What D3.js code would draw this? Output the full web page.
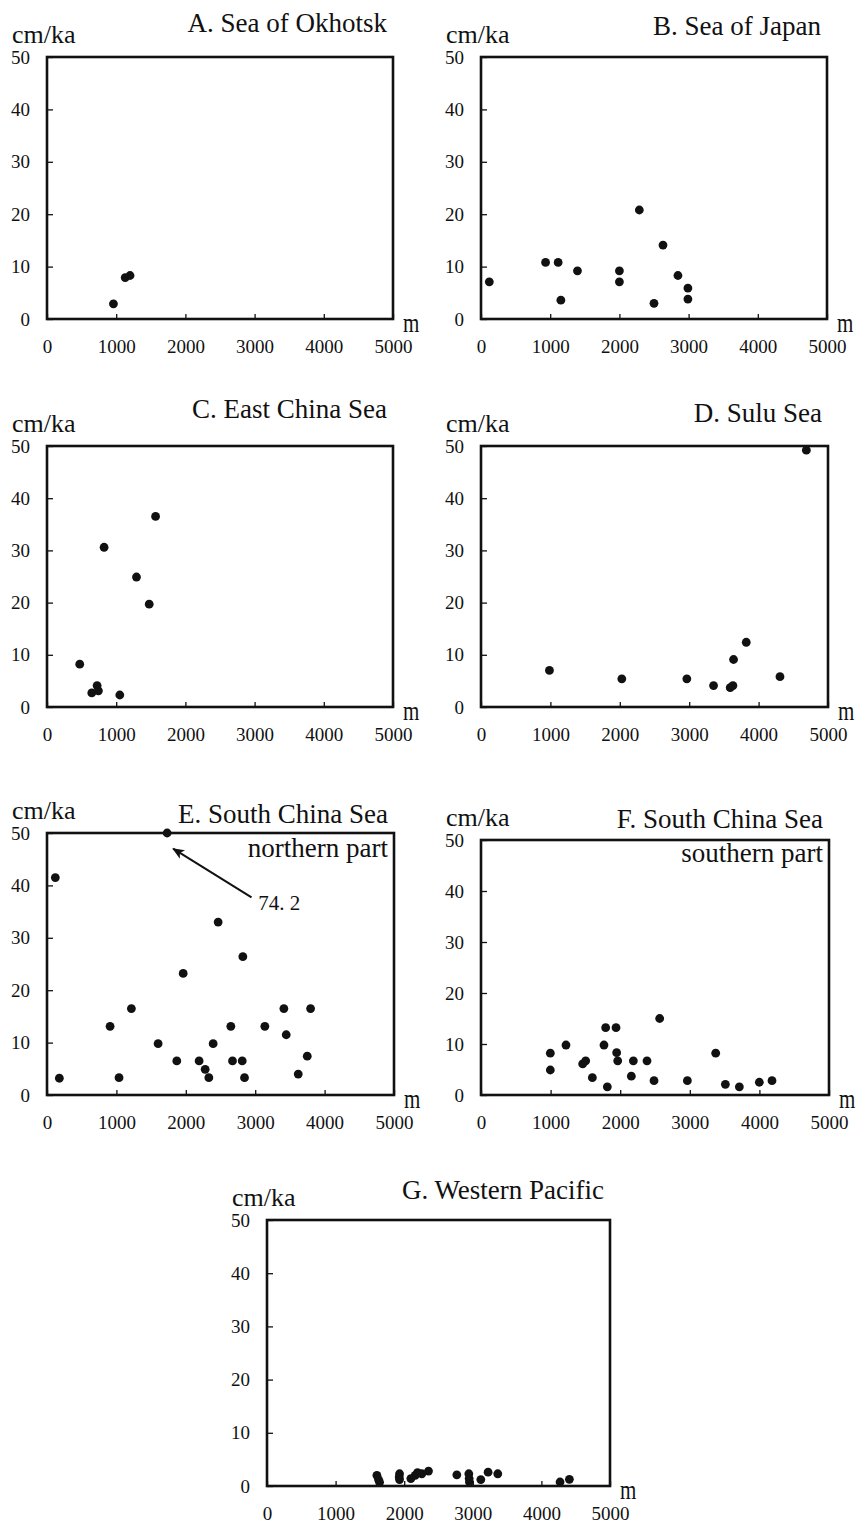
<!DOCTYPE html>
<html>
<head>
<meta charset="utf-8">
<script src="https://cdn.jsdelivr.net/npm/d3@7"></script>
<style>
  body { margin: 0; background: #fff; }
  svg text { font-family: "Liberation Serif", "Times New Roman", "DejaVu Serif", serif; fill: #111; }
</style>
</head>
<body>
<svg id="Target" width="859" height="1533" font-family="Liberation Serif, serif"></svg>
<script>
// depth (m), sedimentation rate (cm/ka)
var okhotsk = [[960, 2.9], [1130, 7.9], [1200, 8.3]];
var japan = [[120, 7.1], [933, 10.8], [1115, 10.8], [1154, 3.6], [1394, 9.2], [2000, 9.2],
    [2000, 7.1], [2288, 20.8], [2500, 3.0], [2630, 14.1], [2846, 8.3], [2990, 5.9], [2990, 3.8]];
var eastChina = [[473, 8.2], [825, 30.6], [1569, 36.5], [1293, 24.9], [1477, 19.7],
    [647, 2.7], [724, 4.1], [743, 3.1], [1052, 2.3]];
var sulu = [[986, 7.0], [2029, 5.4], [2966, 5.4], [3351, 4.1], [3591, 3.7], [3630, 4.1],
    [3639, 9.1], [3822, 12.4], [4308, 5.8], [4688, 49.2]];
var scsNorth = [[120, 41.5], [178, 3.2], [909, 13.1], [1216, 16.5], [1038, 3.3], [1601, 9.8],
    [1731, 74.2], [1870, 6.5], [1962, 23.2], [2192, 6.5], [2279, 4.9], [2332, 3.3], [2394, 9.8],
    [2466, 33.0], [2649, 13.1], [2673, 6.5], [2813, 6.5], [2822, 26.4], [2846, 3.3], [3139, 13.1],
    [3413, 16.5], [3447, 11.5], [3620, 4.0], [3750, 7.4], [3798, 16.5]];
var scsSouth = [[996, 8.2], [996, 4.9], [1221, 9.8], [1461, 6.1], [1504, 6.7], [1600, 3.4],
    [1767, 9.8], [1791, 13.2], [1815, 1.6], [1940, 13.2], [1949, 8.3], [1964, 6.7], [2160, 3.7],
    [2189, 6.7], [2385, 6.7], [2486, 2.8], [2567, 15.0], [2965, 2.8], [3372, 8.2], [3511, 2.1],
    [3712, 1.6], [3999, 2.5], [4181, 2.8]];
var westPacific = [[1602, 2.0], [1626, 1.2], [1641, 0.7], [1932, 2.3], [1927, 1.7], [1932, 1.2],
    [2097, 1.4], [2160, 2.0], [2194, 2.5], [2257, 2.3], [2354, 2.8], [2767, 2.1], [2942, 2.3],
    [2947, 1.4], [2951, 0.75], [3117, 1.2], [3223, 2.6], [3364, 2.3], [4272, 0.75], [4408, 1.25]];

var xTicks = [0, 1000, 2000, 3000, 4000, 5000];
var yTicks = [0, 10, 20, 30, 40, 50];

var panels = [
    { title: ["A. Sea of Okhotsk"], data: okhotsk, x: 47, y: 57, w: 346, h: 262 },
    { title: ["B. Sea of Japan"], data: japan, x: 481, y: 57, w: 346, h: 262 },
    { title: ["C. East China Sea"], data: eastChina, x: 47, y: 446, w: 346, h: 261 },
    { title: ["D. Sulu Sea"], data: sulu, x: 481, y: 446, w: 347, h: 261 },
    { title: ["E. South China Sea", "northern part"], data: scsNorth, x: 47, y: 833, w: 347, h: 262, note: true },
    { title: ["F. South China Sea", "southern part"], data: scsSouth, x: 481, y: 840, w: 348, h: 255 },
    { title: ["G. Western Pacific"], data: westPacific, x: 267, y: 1220, w: 343, h: 266 }
];

var svg = d3.select("#Target");

svg.append("defs").append("marker")
    .attr("id", "arrowHead")
    .attr("viewBox", "0 0 12 10")
    .attr("refX", 11).attr("refY", 5)
    .attr("markerWidth", 12).attr("markerHeight", 10)
    .attr("markerUnits", "userSpaceOnUse")
    .attr("orient", "auto")
    .append("path")
    .attr("d", "M0,0 L12,5 L0,10 L3,5 Z")
    .attr("fill", "#111");

panels.forEach(function (p, i) {
    var g = svg.append("g").attr("transform", "translate(" + p.x + "," + p.y + ")");
    var x = d3.scaleLinear().domain([0, 5000]).range([0, p.w]);
    var y = d3.scaleLinear().domain([0, 50]).range([p.h, 0]).clamp(true);

    // inward ticks
    var yAxis = g.append("g")
        .call(d3.axisLeft(y).tickValues(yTicks).tickFormat(d3.format("d")).tickSize(-6).tickPadding(17));
    var xAxis = g.append("g").attr("transform", "translate(0," + p.h + ")")
        .call(d3.axisBottom(x).tickValues(xTicks).tickFormat(d3.format("d")).tickSize(-5).tickPadding(21));
    [xAxis, yAxis].forEach(function (a) {
        a.attr("font-family", null);
        a.select(".domain").remove();
        a.selectAll("line").attr("stroke", "#111").attr("stroke-width", 1.3);
        a.selectAll("text").attr("font-size", 19).attr("fill", "#111");
    });

    g.append("rect")
        .attr("width", p.w).attr("height", p.h)
        .attr("fill", "none").attr("stroke", "#111").attr("stroke-width", 2.6);

    g.selectAll("circle")
        .data(p.data)
        .enter()
        .append("circle")
        .attr("cx", function (d) { return x(d[0]); })
        .attr("cy", function (d) { return y(d[1]); })
        .attr("r", 4.4)
        .attr("fill", "#111");

    // units
    g.append("text").attr("x", -35).attr("y", -14)
        .attr("font-size", 26).text("cm/ka");
    g.append("text")
        .attr("transform", "translate(" + (p.w + 10) + "," + (p.h + 13) + ") scale(0.75,1)")
        .attr("font-size", 28).text("m");

    // title lines, right aligned
    var titleRight = p.w - 6;
    var titleY = [-25, -22, -28, -24, -10, -12, -21][i];
    g.append("text").attr("x", titleRight).attr("y", titleY)
        .attr("text-anchor", "end").attr("font-size", 27).text(p.title[0]);
    if (p.title[1]) {
        g.append("text").attr("x", titleRight).attr("y", titleY + 34)
            .attr("text-anchor", "end").attr("font-size", 27).text(p.title[1]);
    }

    if (p.note) {
        var top = p.data.filter(function (d) { return d[1] > 50; })[0];
        g.append("line")
            .attr("x1", x(2947)).attr("y1", y(37.7))
            .attr("x2", x(1817)).attr("y2", y(47.0))
            .attr("stroke", "#111").attr("stroke-width", 2)
            .attr("marker-end", "url(#arrowHead)");
        g.append("text").attr("x", x(3043)).attr("y", y(35.3))
            .attr("font-size", 21).text(d3.format(".1f")(top[1]).replace(".", ". "));
    }
});
</script>
</body>
</html>
